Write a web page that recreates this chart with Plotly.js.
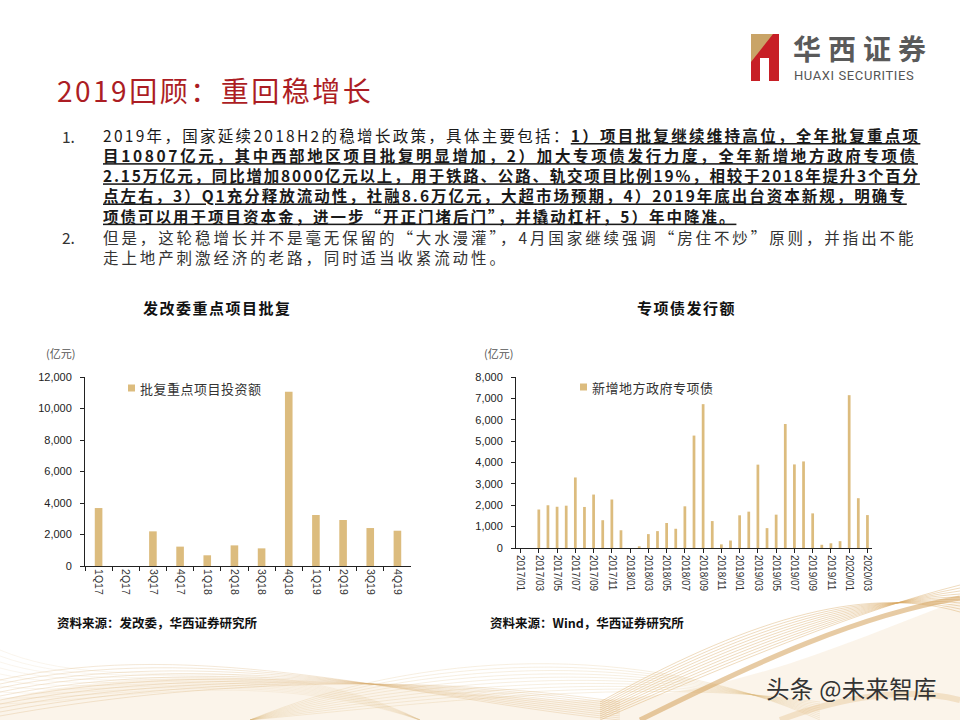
<!DOCTYPE html>
<html><head><meta charset="utf-8">
<script src="https://cdn.plot.ly/plotly-3.0.1.min.js"></script>
<style>html,body{margin:0;padding:0;background:#fff}#chart{width:960px;height:720px}</style>
</head><body><div id="chart"></div>
<script>
// ---------- data ----------
const quarters = ['1Q17','2Q17','3Q17','4Q17','1Q18','2Q18','3Q18','4Q18','1Q19','2Q19','3Q19','4Q19'];
const approvals = [3680, null, 2200, 1230, 680, 1310, 1120, 11070, 3240, 2920, 2410, 2240];
const approvalsName = '批复重点项目投资额';

const months = ['2017/01','2017/02','2017/03','2017/04','2017/05','2017/06','2017/07','2017/08','2017/09','2017/10','2017/11','2017/12',
                '2018/01','2018/02','2018/03','2018/04','2018/05','2018/06','2018/07','2018/08','2018/09','2018/10','2018/11','2018/12',
                '2019/01','2019/02','2019/03','2019/04','2019/05','2019/06','2019/07','2019/08','2019/09','2019/10','2019/11','2019/12',
                '2020/01','2020/02','2020/03'];
const specialBonds = [0, 0, 1800, 2000, 1930, 1980, 3300, 1920, 2500, 1300, 2270, 830,
                      0, 80, 650, 790, 1170, 900, 1950, 5260, 6730, 1260, 170, 350,
                      1530, 1700, 3900, 930, 1560, 5800, 3910, 4050, 1620, 150, 220, 320,
                      7150, 2330, 1540];
const bondsName = '新增地方政府专项债';

const pageTitle = '2019回顾：重回稳增长';
const leftTitle = '发改委重点项目批复';
const rightTitle = '专项债发行额';
const unitLabel = '(亿元)';
const leftSource = '资料来源：发改委，华西证券研究所';
const rightSource = '资料来源：Wind，华西证券研究所';
const watermark = '头条 @未来智库';
const para1Plain = '2019年，国家延续2018H2的稳增长政策，具体主要包括：';
const para1Bold = ['1）项目批复继续维持高位，全年批复重点项',
  '目10807亿元，其中西部地区项目批复明显增加，2）加大专项债发行力度，全年新增地方政府专项债',
  '2.15万亿元，同比增加8000亿元以上，用于铁路、公路、轨交项目比例19%，相较于2018年提升3个百分',
  '点左右，3）Q1充分释放流动性，社融8.6万亿元，大超市场预期，4）2019年底出台资本新规，明确专',
  '项债可以用于项目资本金，进一步“开正门堵后门”，并撬动杠杆，5）年中降准。'];
const para2 = ['但是，这轮稳增长并不是毫无保留的“大水漫灌”，4月国家继续强调“房住不炒”原则，并指出不能',
  '走上地产刺激经济的老路，同时适当收紧流动性。'];

// ---------- helpers ----------
const W = 960, H = 720;
const px = x => x / W;
const py = y => 1 - y / H;
const P = (x, y) => `${(x / W).toFixed(5)},${(1 - y / H).toFixed(5)}`;
const CJK = '"Noto Sans CJK SC", "Noto Sans", sans-serif';
const ARIAL = '"Liberation Sans", Arial, sans-serif';
const BAR = '#DCBC7E';

const ann = [];
function txt(x, y, text, opt) {
  ann.push(Object.assign({xref:'paper', yref:'paper', x:px(x), y:py(y), text:text, showarrow:false,
    xanchor:'left', yanchor:'middle', align:'left', font:{family:CJK, size:14, color:'#222'}}, opt || {}));
}
const sp = (ls, t) => `<span style="letter-spacing:${ls}px">${t}</span>`;

// title
txt(55, 90, sp(2.5, pageTitle), {font:{family:CJK, size:28, color:'#AC1D24'}});
// logo text
txt(791, 48, sp(7, '华西证券'), {font:{family:CJK, size:28, color:'#5a5a5a', weight:700}});
txt(792, 76, sp(0.6, 'HUAXI SECURITIES'), {font:{family:'Roboto, sans-serif', size:13, color:'#555'}});

// body text (per-line letter spacing to emulate justified text)
const p1Spacing = [2.3, 2.65, 1.8, 2.0, 2.0];
const p1Lines = [sp(p1Spacing[0], para1Plain + `<b><u>${para1Bold[0]}</u></b>`)];
for (let i = 1; i < para1Bold.length; i++) p1Lines.push(sp(p1Spacing[i], `<b><u>${para1Bold[i]}</u></b>`));
txt(60, 136, '1.', {font:{family:CJK, size:15.5, color:'#333'}});
txt(101, 175.5, p1Lines.join('<br>'), {font:{family:CJK, size:15.5, color:'#1a1a1a'}});
txt(60, 236.5, '2.', {font:{family:CJK, size:15.5, color:'#333'}});
txt(101, 246.5, sp(2.9, para2[0]) + '<br>' + sp(2.9, para2[1]), {font:{family:CJK, size:15.5, color:'#333'}});

// chart titles
txt(217, 307, sp(1.5, `<b>${leftTitle}</b>`), {xanchor:'center', font:{family:CJK, size:15, color:'#111'}});
txt(686, 307, sp(1.5, `<b>${rightTitle}</b>`), {xanchor:'center', font:{family:CJK, size:15, color:'#111'}});
txt(44, 353, unitLabel, {font:{family:CJK, size:11, color:'#555'}});
txt(482, 353, unitLabel, {font:{family:CJK, size:11, color:'#555'}});
// legends
txt(138, 388, sp(0.5, approvalsName), {font:{family:CJK, size:13, color:'#333'}});
txt(590, 387, sp(0.5, bondsName), {font:{family:CJK, size:13, color:'#333'}});
// sources
txt(55, 622, `<b>${leftSource}</b>`, {font:{family:CJK, size:12.5, color:'#111'}});
txt(488, 622, `<b>${rightSource}</b>`, {font:{family:CJK, size:12.5, color:'#111'}});
// watermark
txt(764, 688, sp(0.3, watermark), {font:{family:CJK, size:23.5, color:'#333'}});

// ---------- shapes (decoration, logo, legend keys) ----------
const shapes = [];
const wave = (d, color, width, fill) => shapes.push({type:'path', xref:'paper', yref:'paper', path:d,
  line:{color:color, width:width}, fillcolor:fill || 'rgba(0,0,0,0)', layer:'below'});
wave(`M${P(0,720)} L${P(0,700)} C${P(180,655)} ${P(380,690)} ${P(560,700)} C${P(720,705)} ${P(850,640)} ${P(960,600)} L${P(960,720)} Z`, 'rgba(0,0,0,0)', 0, 'rgba(236,205,160,0.22)');
for (let k = 0; k < 10; k++) {
  wave(`M${P(0,680 + k*4)} C${P(200,635 + k*5)} ${P(420,700 - k*3)} ${P(620,720 - k*2)}`, 'rgba(215,170,110,0.35)', 0.8);
  wave(`M${P(600,720 - k*2)} C${P(740,660 - k*4)} ${P(860,610 - k*3)} ${P(960,585 + k*3)}`, 'rgba(215,165,95,0.45)', 0.9);
  wave(`M${P(250,720)} C${P(420,650 + k*6)} ${P(640,640 + k*4)} ${P(820,720 - k*2)}`, 'rgba(220,180,120,0.28)', 0.8);
  wave(`M${P(0,650 + k*6)} C${P(120,700)} ${P(260,640 + k*3)} ${P(420,720)}`, 'rgba(225,190,140,0.22)', 0.7);
}
wave(`M${P(640,720)} C${P(760,660)} ${P(860,615)} ${P(960,598)}`, 'rgba(212,160,90,0.55)', 5);
wave(`M${P(780,720)} C${P(860,690)} ${P(920,690)} ${P(960,700)}`, 'rgba(225,185,130,0.35)', 6);

// logo
shapes.push({type:'rect', xref:'paper', yref:'paper', x0:px(751), x1:px(779), y0:py(81), y1:py(34), fillcolor:'#C71F26', line:{width:0}});
shapes.push({type:'path', xref:'paper', yref:'paper', path:`M${P(751,34)} L${P(773,34)} L${P(751,62)} Z`, fillcolor:'#C9A467', line:{width:0}});
shapes.push({type:'rect', xref:'paper', yref:'paper', x0:px(760), x1:px(769), y0:py(81), y1:py(58), fillcolor:'#fff', line:{width:0}});

// legend keys
shapes.push({type:'rect', xref:'paper', yref:'paper', x0:px(128), x1:px(135), y0:py(391.5), y1:py(384.5), fillcolor:BAR, line:{width:0}});
shapes.push({type:'rect', xref:'paper', yref:'paper', x0:px(580), x1:px(587), y0:py(390.5), y1:py(383.5), fillcolor:BAR, line:{width:0}});

// ---------- traces ----------
const traces = [
  {type:'bar', x:quarters, y:approvals, name:approvalsName, xaxis:'x', yaxis:'y', width:0.28,
   marker:{color:BAR, line:{width:0}}, hoverinfo:'skip'},
  {type:'bar', x:months, y:specialBonds, name:bondsName, xaxis:'x2', yaxis:'y2', width:0.3,
   marker:{color:BAR, line:{width:0}}, hoverinfo:'skip'}
];

const axisCommon = {showline:true, linecolor:'#222', linewidth:1, ticks:'outside', ticklen:4, tickcolor:'#222',
  showgrid:false, zeroline:false, fixedrange:true};

const layout = {
  width:W, height:H, margin:{l:0, r:0, t:0, b:0}, paper_bgcolor:'#fff', plot_bgcolor:'rgba(0,0,0,0)',
  showlegend:false,
  xaxis: Object.assign({}, axisCommon, {domain:[px(85), px(411)], anchor:'y', type:'category', range:[-0.5, 11.5],
    tickson:'boundaries', tickangle:90, tickfont:{family:ARIAL, size:10.5, color:'#333'}}),
  yaxis: Object.assign({}, axisCommon, {domain:[py(566), py(377)], anchor:'x', range:[0, 12000], dtick:2000,
    tickformat:',d', ticklabelstandoff:6, tickfont:{family:ARIAL, size:11, color:'#222'}}),
  xaxis2: Object.assign({}, axisCommon, {domain:[px(516), px(872)], anchor:'y2', type:'category', range:[-0.5, 38.5],
    tickmode:'array', tickvals:months.filter((m, i) => i % 2 === 0), tickangle:90,
    tickfont:{family:ARIAL, size:10, color:'#333'}}),
  yaxis2: Object.assign({}, axisCommon, {domain:[py(548), py(377)], anchor:'x2', range:[0, 8000], dtick:1000,
    tickformat:',d', ticklabelstandoff:6, tickfont:{family:ARIAL, size:11, color:'#222'}}),
  annotations: ann,
  shapes: shapes
};

Plotly.newPlot('chart', traces, layout, {staticPlot:true, displayModeBar:false});
</script>
</body></html>
